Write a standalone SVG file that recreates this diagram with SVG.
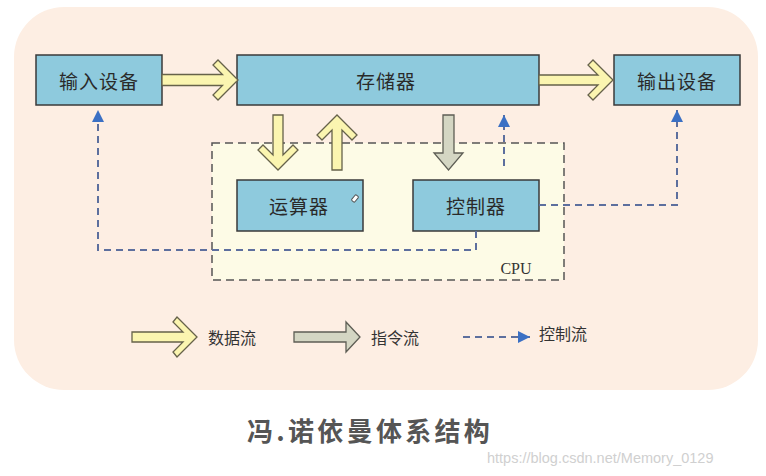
<svg xmlns="http://www.w3.org/2000/svg" width="766" height="476" viewBox="0 0 766 476">
<style>
.box{fill:#8ecadd;stroke:#3a3a3a;stroke-width:1.5}
.lbl{font-family:"Noto Sans CJK SC",sans-serif;font-size:19px;letter-spacing:1px;fill:#2a2a2a;text-anchor:middle;dominant-baseline:central}
.leg{font-family:"Noto Sans CJK SC",sans-serif;font-size:16px;fill:#333;dominant-baseline:central}
.data{fill:#fbf5b0;stroke:#66624a;stroke-width:1.3;stroke-linejoin:miter}
.instr{fill:#d4d6c3;stroke:#5e5e55;stroke-width:1.3}
.ctrl{fill:none;stroke:#5d6f9e;stroke-width:2;stroke-dasharray:7,5}
</style>
<defs>
<marker id="tri" markerUnits="userSpaceOnUse" markerWidth="12" markerHeight="12" refX="12" refY="6" orient="auto">
<path d="M0,0 L12,6 L0,12 z" fill="#3b70c4"/>
</marker>
</defs>
<rect width="766" height="476" fill="#ffffff"/>
<rect id="panel" x="14" y="7" width="744" height="383" rx="50" ry="50" fill="#fdeee3"/>
<g id="cpu">
<rect x="212" y="143" width="352" height="137" fill="#fdfbe6" stroke="#555" stroke-width="1.5" stroke-dasharray="8,5"/>
<text x="516" y="268" font-family="Liberation Serif,serif" font-size="16" fill="#333" text-anchor="middle" dominant-baseline="central">CPU</text>
</g>
<g id="input"><rect class="box" x="36" y="55" width="126" height="50"/><text class="lbl" x="99" y="80">输入设备</text></g>
<g id="memory"><rect class="box" x="237" y="55" width="302" height="50"/><text class="lbl" x="386" y="80">存储器</text></g>
<g id="output"><rect class="box" x="614" y="55" width="126" height="50"/><text class="lbl" x="677" y="80">输出设备</text></g>
<g id="alu"><rect class="box" x="237" y="180" width="126" height="51"/><text class="lbl" x="299" y="205">运算器</text>
<rect x="353" y="195" width="4" height="7" rx="1" fill="#fff" stroke="#555" stroke-width="1" transform="rotate(40 355 198.5)"/></g>
<g id="controller"><rect class="box" x="413" y="180" width="126" height="51"/><text class="lbl" x="476" y="205">控制器</text></g>
<g id="connectors">
<polygon class="data" points="162,74.5 222.5,74.5 213,65 218,60 238,80 218,100 213,95 222.5,85.5 162,85.5"/>
<polygon class="data" points="539,75 598,75 588,65 593,60 613,80 593,100 588,95 598,85 539,85"/>
<polygon class="data" points="273,115 283,115 283,155 293,145 298,150 278,170 258,150 263,145 273,155"/>
<polygon class="data" points="332,170 342,170 342,130 352,140 357,135 337,115 317,135 322,140 332,130"/>
<polygon class="instr" points="443,115 454,115 454,153 463,153 448.5,170 434,153 443,153"/>
<path class="ctrl" d="M476,231 V250 H98 V110" marker-end="url(#tri)"/>
<path class="ctrl" d="M539,205 H677 V110" marker-end="url(#tri)"/>
<path class="ctrl" d="M504,166 V115" marker-end="url(#tri)"/>
</g>
<g id="legend">
<polygon class="data" points="132,332 183,332 173,322 177,317 197,337 177,357 173,352 183,342 132,342"/>
<text class="leg" x="208" y="337">数据流</text>
<polygon class="instr" points="294,332 346,332 346,322 360,337 346,352 346,342 294,342"/>
<text class="leg" x="371" y="337">指令流</text>
<path class="ctrl" d="M463,337 H530" marker-end="url(#tri)"/>
<text class="leg" x="539" y="333">控制流</text>
</g>
<text id="title" x="247" y="429" font-family="Noto Sans CJK SC,sans-serif" font-size="26" font-weight="bold" fill="#555" letter-spacing="3.3" dominant-baseline="central">冯.诺依曼体系结构</text>
<text id="watermark" x="487" y="458" font-family="Liberation Sans,sans-serif" font-size="14.5" fill="#d0d0d0" dominant-baseline="central">https://blog.csdn.net/Memory_0129</text>
</svg>
